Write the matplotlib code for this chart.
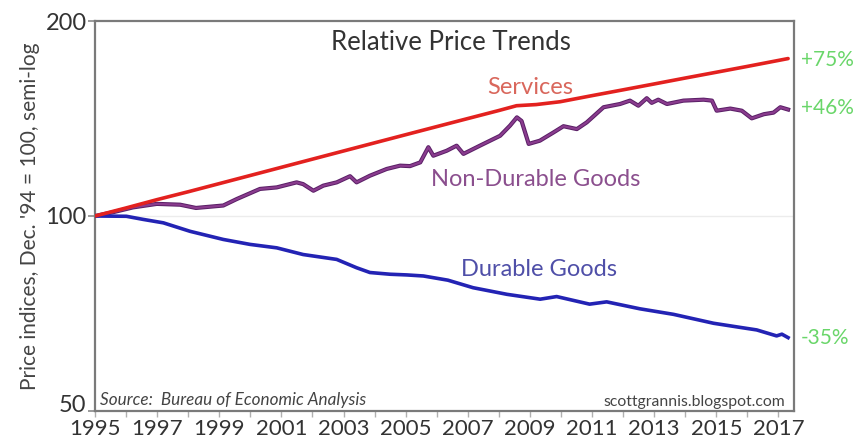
import matplotlib
matplotlib.use("Agg")
import matplotlib.pyplot as plt
from matplotlib.ticker import FixedLocator, NullLocator, NullFormatter
from matplotlib.transforms import ScaledTranslation

# ---------------- data ----------------
services_x = [1995.0, 1996.0, 1997.0, 1998.0, 1999.0, 2000.0, 2001.0, 2002.0, 2003.0,
              2004.0, 2005.0, 2006.0, 2007.0, 2008.0, 2008.57, 2009.2, 2009.97, 2011.0,
              2012.0, 2013.0, 2014.0, 2015.0, 2016.0, 2017.31]
services_y = [100.0, 102.9, 106.0, 109.0, 112.2, 115.5, 118.9, 122.4, 126.0,
              129.7, 133.5, 137.4, 141.4, 145.5, 148.0, 148.6, 150.1, 153.4,
              156.6, 159.9, 163.3, 166.7, 170.2, 175.0]

nondur_x = [1995.0, 1995.6, 1996.22, 1996.99, 1997.74, 1998.25, 1999.13, 1999.56, 2000.31,
            2000.85, 2001.49, 2001.70, 2002.03, 2002.35, 2002.78, 2003.21, 2003.42,
            2003.85, 2004.39, 2004.82, 2005.14, 2005.47, 2005.73, 2005.89, 2006.32,
            2006.64, 2006.86, 2007.39, 2008.04, 2008.36, 2008.58, 2008.73, 2008.96,
            2009.32, 2009.76, 2010.08, 2010.51, 2010.83, 2011.37, 2011.90, 2012.22,
            2012.49, 2012.76, 2012.92, 2013.13, 2013.41, 2013.94, 2014.59, 2014.86,
            2015.01, 2015.45, 2015.82, 2016.14, 2016.53, 2016.84, 2017.06, 2017.31]
nondur_y = [100.0, 101.4, 103.1, 104.4, 104.1, 102.9, 103.8, 106.2, 110.1,
            110.7, 112.7, 112.0, 109.4, 111.4, 112.7, 115.2, 112.7,
            115.4, 118.2, 119.6, 119.4, 121.0, 127.7, 123.9, 126.1,
            128.4, 124.7, 128.4, 133.0, 137.9, 142.0, 140.2, 129.2,
            130.7, 134.6, 137.6, 136.2, 139.5, 147.2, 148.9, 150.7,
            148.0, 152.0, 149.5, 151.2, 148.9, 150.7, 151.2, 150.7,
            145.4, 146.5, 145.4, 141.5, 143.6, 144.4, 147.2, 146.0]

durable_x = [1995.0, 1996.01, 1996.55, 1997.20, 1998.06, 1999.13, 1999.99, 2000.85,
             2001.70, 2002.78, 2003.42, 2003.85, 2004.50, 2005.04, 2005.57, 2006.36,
             2007.17, 2008.26, 2009.33, 2009.86, 2010.92, 2011.47, 2012.54, 2013.62,
             2014.91, 2015.77, 2016.30, 2016.94, 2017.11, 2017.31]
durable_y = [100.0, 99.9, 98.8, 97.6, 94.7, 92.0, 90.4, 89.3,
             87.2, 85.7, 83.2, 81.8, 81.3, 81.1, 80.8, 79.6,
             77.5, 75.7, 74.4, 75.1, 73.1, 73.7, 71.9, 70.5,
             68.3, 67.3, 66.7, 65.3, 65.7, 64.9]

year_ticks = list(range(1995, 2018, 2))
year_minor = list(range(1995, 2018))
y_ticks = [50, 100, 200]
end_labels = ["+75%", "+46%", "-35%"]

# ---------------- figure ----------------
W, H = 859, 442
fig = plt.figure(figsize=(W / 100, H / 100), dpi=100)
fig.patch.set_facecolor("white")
ax = fig.add_axes([95 / W, 1 - 411 / H, (794 - 95) / W, (411 - 21) / H])

FONT = "Lato"

ax.set_yscale("log")
ax.set_ylim(50, 200)
ax.set_xlim(1995, 2017.5)

ax.axhline(100, color="#ececec", lw=1.0, zorder=1)

ax.plot(services_x, services_y, color="#e3211f", lw=2.6, zorder=4, solid_capstyle="round")
ax.plot(nondur_x, nondur_y, color="#5a1f66", lw=3.0, zorder=3, solid_joinstyle="round")
ax.plot(nondur_x, nondur_y, color="#8a3c8e", lw=1.6, zorder=3, solid_joinstyle="round")
ax.plot(durable_x, durable_y, color="#2323b4", lw=2.6, zorder=3, solid_joinstyle="round")

for s in ax.spines.values():
    s.set_color("#7a7a7a")
    s.set_linewidth(1.6)

ax.yaxis.set_major_locator(FixedLocator(y_ticks))
ax.yaxis.set_minor_locator(NullLocator())
ax.yaxis.set_minor_formatter(NullFormatter())
ax.set_yticklabels([str(v) for v in y_ticks], fontsize=17, family=FONT, color="#333333")
ax.tick_params(axis="y", length=5, width=1.2, color="#8a8a8a", pad=1)

ax.xaxis.set_major_locator(FixedLocator(year_ticks))
ax.xaxis.set_minor_locator(FixedLocator(year_minor))
ax.set_xticklabels([str(v) for v in year_ticks], fontsize=16, family=FONT, color="#333333")
ax.tick_params(axis="x", which="both", length=4, width=1.0, color="#b0b0b0", pad=2)

# raise the bottom "50" label slightly, as in the reference
lbl50 = ax.get_yticklabels()[0]
lbl50.set_transform(lbl50.get_transform() + ScaledTranslation(0, 7 / 100, fig.dpi_scale_trans))

ax.set_ylabel("Price indices, Dec. '94 = 100, semi-log", fontsize=15, family=FONT,
              color="#444444", labelpad=4)

def ftxt(x, y, s, **kw):
    fig.text(x / W, 1 - y / H, s, **kw)

ftxt(451, 43, "Relative Price Trends", ha="center", va="center", fontsize=18.5,
     family=FONT, color="#333333")
ftxt(530, 87, "Services", ha="center", va="center", fontsize=17, family=FONT,
     color="#d9675c")
ftxt(536, 180, "Non-Durable Goods", ha="center", va="center", fontsize=17,
     family=FONT, color="#8b4f8e")
ftxt(539, 270, "Durable Goods", ha="center", va="center", fontsize=17,
     family=FONT, color="#4f4fa8")
ftxt(100, 400, "Source:  Bureau of Economic Analysis", ha="left", va="center",
     fontsize=12.3, family=FONT, style="italic", color="#444444")
ftxt(785, 402, "scottgrannis.blogspot.com", ha="right", va="center",
     fontsize=11.3, family=FONT, color="#444444")

for lab, yy in zip(end_labels, [60, 108, 338]):
    ftxt(801, yy, lab, ha="left", va="center", fontsize=15, family=FONT,
         color="#6ad66a")

fig.savefig("out.png", dpi=100)
